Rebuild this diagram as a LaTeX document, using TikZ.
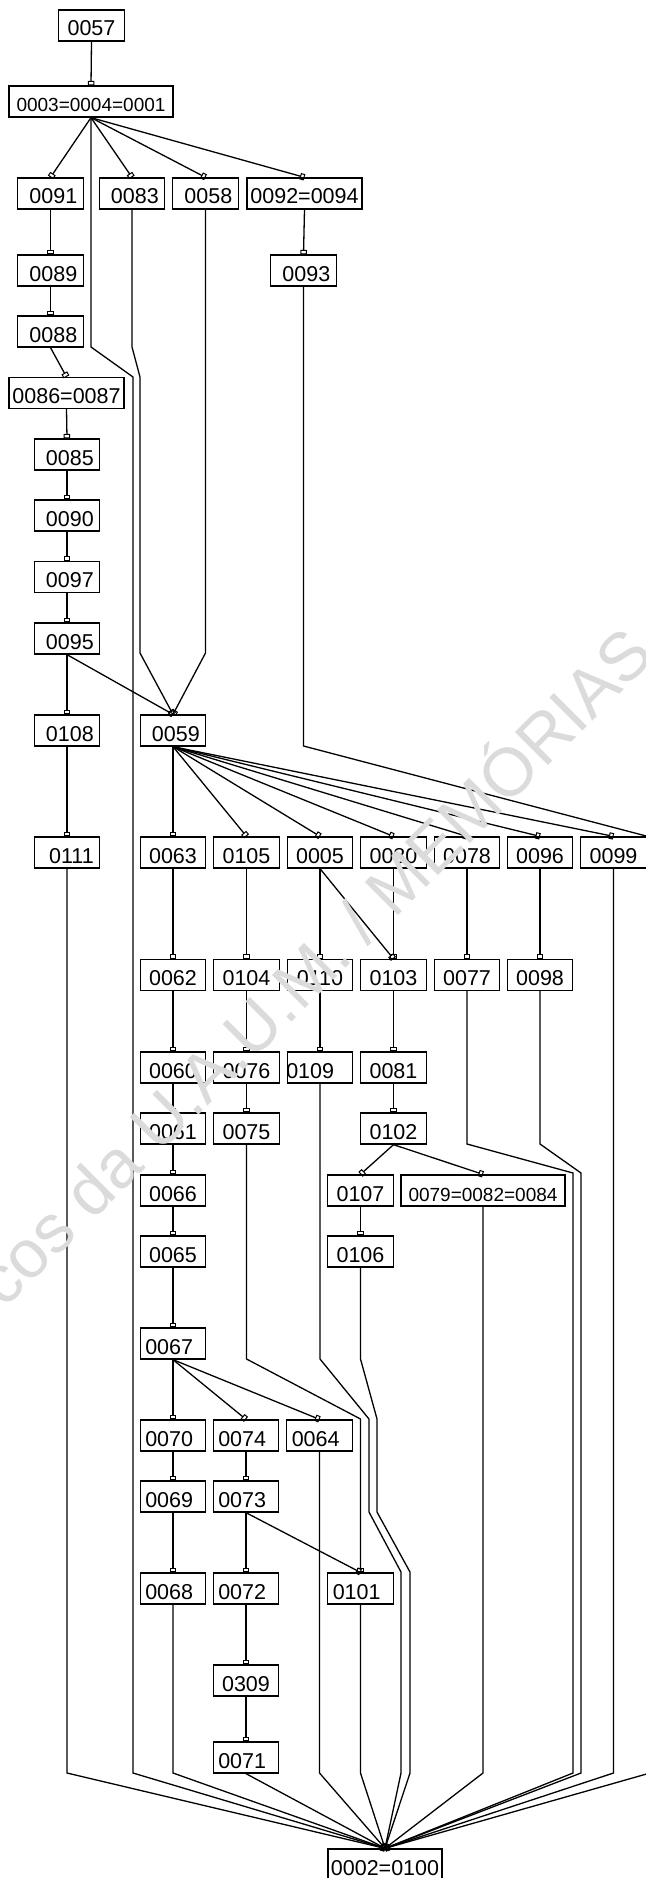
\documentclass[tikz,border=0pt]{standalone}
\usepackage{fontspec}
\setmainfont{Liberation Sans}
\usetikzlibrary{arrows.meta}

\begin{document}
\begin{tikzpicture}[
  x=1pt,y=-1pt,
  box/.style={draw,line width=1.3pt,minimum width=65.5pt,minimum height=31pt,inner sep=0pt,
    text height=21pt,text depth=0pt,font=\fontsize{21.5}{22}\selectfont},
  boxl/.style={box,text width=55.5pt,align=left,inner xsep=5pt},
  boxr/.style={box,text width=53.5pt,align=right,inner xsep=6pt},
  wide/.style={box,minimum width=115pt},
  wider/.style={box,minimum width=164pt,font=\fontsize{19}{20}\selectfont},
  rel/.style={-{Square[open,length=4.5pt,width=6.5pt,line width=1pt]},line width=1.3pt},
  wmark/.style={text=black!14,font=\fontsize{68}{68}\selectfont},
]
  \fill[white] (0,0) rectangle (645,1878);
  \useasboundingbox (0,0) rectangle (645,1878);

  \node[box] (u0057) at (91.5,25.5) {0057};
  \node[wider] (u0003) at (91,101.5) {0003=0004=0001};
  \node[boxr] (u0091) at (50.5,193.5) {0091};
  \node[boxr] (u0083) at (132,193.5) {0083};
  \node[boxr] (u0058) at (205.5,193.5) {0058};
  \node[wide] (u0092) at (304.5,193.5) {0092=0094};
  \node[boxr] (u0089) at (50.5,270.5) {0089};
  \node[boxr] (u0093) at (303.5,270.5) {0093};
  \node[boxr] (u0088) at (50.5,331.5) {0088};
  \node[wide] (u0086) at (66.5,393) {0086=0087};
  \node[boxr] (u0085) at (67,454.5) {0085};
  \node[boxr] (u0090) at (67,515.5) {0090};
  \node[boxr] (u0097) at (67,577) {0097};
  \node[boxr] (u0095) at (67,638.5) {0095};
  \node[boxr] (u0108) at (67,730.5) {0108};
  \node[boxr] (u0059) at (173,730.5) {0059};

  \node[boxr] (u0111) at (67,852.5) {0111};
  \node[box] (u0063) at (173,852.5) {0063};
  \node[box] (u0105) at (246.5,852.5) {0105};
  \node[box] (u0005) at (320,852.5) {0005};
  \node[box] (u0080) at (393.5,852.5) {0080};
  \node[box] (u0078) at (467,852.5) {0078};
  \node[box] (u0096) at (540,852.5) {0096};
  \node[box] (u0099) at (613.5,852.5) {0099};
  \coordinate (offtop) at (650,837);

  \node[box] (u0062) at (173,975) {0062};
  \node[box] (u0104) at (246.5,975) {0104};
  \node[box] (u0110) at (320,975) {0110};
  \node[box] (u0103) at (393.5,975) {0103};
  \node[box] (u0077) at (467,975) {0077};
  \node[box] (u0098) at (540,975) {0098};

  \node[box] (u0060) at (173,1067.5) {0060};
  \node[box] (u0076) at (246.5,1067.5) {0076};
  \node[boxl,inner xsep=-1pt,text width=67.5pt] (u0109) at (320,1067.5) {0109};
  \node[box] (u0081) at (393.5,1067.5) {0081};
  \node[box] (u0061) at (173,1128.5) {0061};
  \node[box] (u0075) at (246.5,1128.5) {0075};
  \node[box] (u0102) at (393.5,1128.5) {0102};

  \node[box] (u0066) at (173,1190.5) {0066};
  \node[box] (u0107) at (360.5,1190.5) {0107};
  \node[wider] (u0079) at (483,1190.5) {0079=0082=0084};
  \node[box] (u0065) at (173,1251.5) {0065};
  \node[box] (u0106) at (360.5,1251.5) {0106};
  \node[boxl] (u0067) at (173,1343.5) {0067};

  \node[boxl] (u0070) at (173,1435.5) {0070};
  \node[boxl] (u0074) at (246,1435.5) {0074};
  \node[boxl] (u0064) at (319.5,1435.5) {0064};
  \node[boxl] (u0069) at (173,1496.5) {0069};
  \node[boxl] (u0073) at (246,1496.5) {0073};
  \node[boxl] (u0068) at (173,1588.5) {0068};
  \node[boxl] (u0072) at (246,1588.5) {0072};
  \node[boxl] (u0101) at (360.5,1588.5) {0101};
  \node[box] (u0309) at (246,1680.5) {0309};
  \node[boxl] (u0071) at (246,1757.5) {0071};
  \coordinate (offbot) at (650,1773);

  \node[box,minimum width=114pt] (u0002) at (385,1864.5) {0002=0100};

  \draw[rel] (u0057.south) -- (u0003.north);
  \draw[rel] (u0003.south) -- (u0091.north);
  \draw[rel] (u0003.south) -- (u0083.north);
  \draw[rel] (u0003.south) -- (u0058.north);
  \draw[rel] (u0003.south) -- (u0092.north);
  \draw[rel] (u0091.south) -- (u0089.north);
  \draw[rel] (u0089.south) -- (u0088.north);
  \draw[rel] (u0088.south) -- (u0086.north);
  \draw[rel] (u0086.south) -- (u0085.north);
  \draw[rel] (u0085.south) -- (u0090.north);
  \draw[rel] (u0090.south) -- (u0097.north);
  \draw[rel] (u0097.south) -- (u0095.north);
  \draw[rel] (u0095.south) -- (u0108.north);
  \draw[rel] (u0095.south) -- (u0059.north);
  \draw[rel] (u0108.south) -- (u0111.north);
  \draw[rel] (u0092.south) -- (u0093.north);
  \draw[rel] (u0083.south) -- (132,347) -- (140,377) -- (140,653) -- (u0059.north);
  \draw[rel] (u0058.south) -- (205.5,653) -- (u0059.north);
  \draw[line width=1.3pt] (u0093.south) -- (303.5,746) -- (offtop);

  \draw[rel] (u0059.south) -- (u0063.north);
  \draw[rel] (u0059.south) -- (u0105.north);
  \draw[rel] (u0059.south) -- (u0005.north);
  \draw[rel] (u0059.south) -- (u0080.north);
  \draw[rel] (u0059.south) -- (u0078.north);
  \draw[rel] (u0059.south) -- (u0096.north);
  \draw[rel] (u0059.south) -- (u0099.north);

  \draw[rel] (u0063.south) -- (u0062.north);
  \draw[rel] (u0062.south) -- (u0060.north);
  \draw[rel] (u0060.south) -- (u0061.north);
  \draw[rel] (u0061.south) -- (u0066.north);
  \draw[rel] (u0066.south) -- (u0065.north);
  \draw[rel] (u0065.south) -- (u0067.north);
  \draw[rel] (u0067.south) -- (u0070.north);
  \draw[rel] (u0067.south) -- (u0074.north);
  \draw[rel] (u0067.south) -- (u0064.north);
  \draw[rel] (u0070.south) -- (u0069.north);
  \draw[rel] (u0069.south) -- (u0068.north);
  \draw[rel] (u0074.south) -- (u0073.north);
  \draw[rel] (u0073.south) -- (u0072.north);
  \draw[rel] (u0073.south) -- (u0101.north);
  \draw[rel] (u0072.south) -- (u0309.north);
  \draw[rel] (u0309.south) -- (u0071.north);
  \draw[rel] (u0105.south) -- (u0104.north);
  \draw[rel] (u0104.south) -- (u0076.north);
  \draw[rel] (u0076.south) -- (u0075.north);
  \draw[rel] (u0075.south) -- (246.5,1359) -- (360.5,1419) -- (u0101.north);
  \draw[rel] (u0005.south) -- (u0110.north);
  \draw[rel] (u0005.south) -- (u0103.north);
  \draw[rel] (u0110.south) -- (u0109.north);
  \draw[rel] (u0080.south) -- (u0103.north);
  \draw[rel] (u0103.south) -- (u0081.north);
  \draw[rel] (u0081.south) -- (u0102.north);
  \draw[rel] (u0102.south) -- (u0107.north);
  \draw[rel] (u0102.south) -- (u0079.north);
  \draw[rel] (u0107.south) -- (u0106.north);
  \draw[rel] (u0078.south) -- (u0077.north);
  \draw[rel] (u0096.south) -- (u0098.north);

  \draw[rel] (u0111.south) -- (67,1773) -- (u0002.north);
  \draw[rel] (u0003.south) -- (91,347) -- (133,377) -- (133,1773) -- (u0002.north);
  \draw[rel] (u0068.south) -- (173,1773) -- (u0002.north);
  \draw[rel] (u0071.south) -- (u0002.north);
  \draw[rel] (u0064.south) -- (319.5,1773) -- (u0002.north);
  \draw[rel] (u0101.south) -- (360.5,1773) -- (u0002.north);
  \draw[rel] (u0109.south) -- (320,1359) -- (369,1419) -- (369,1512) -- (401,1572) -- (401,1773) -- (u0002.north);
  \draw[rel] (u0106.south) -- (360.5,1359) -- (377,1419) -- (377,1512) -- (410,1572) -- (410,1773) -- (u0002.north);
  \draw[rel] (u0079.south) -- (483,1773) -- (u0002.north);
  \draw[rel] (u0077.south) -- (467,1144) -- (573,1173) -- (573,1773) -- (u0002.north);
  \draw[rel] (u0098.south) -- (540,1144) -- (581,1173) -- (581,1773) -- (u0002.north);
  \draw[rel] (u0099.south) -- (613.5,1773) -- (u0002.north);
  \draw[rel] (offbot) -- (u0002.north);

  \node[wmark,rotate=45,anchor=base west] (wm) at (2,1312) {cos da U.A.U.M. / MEMÓRIAS};
\end{tikzpicture}
\end{document}
